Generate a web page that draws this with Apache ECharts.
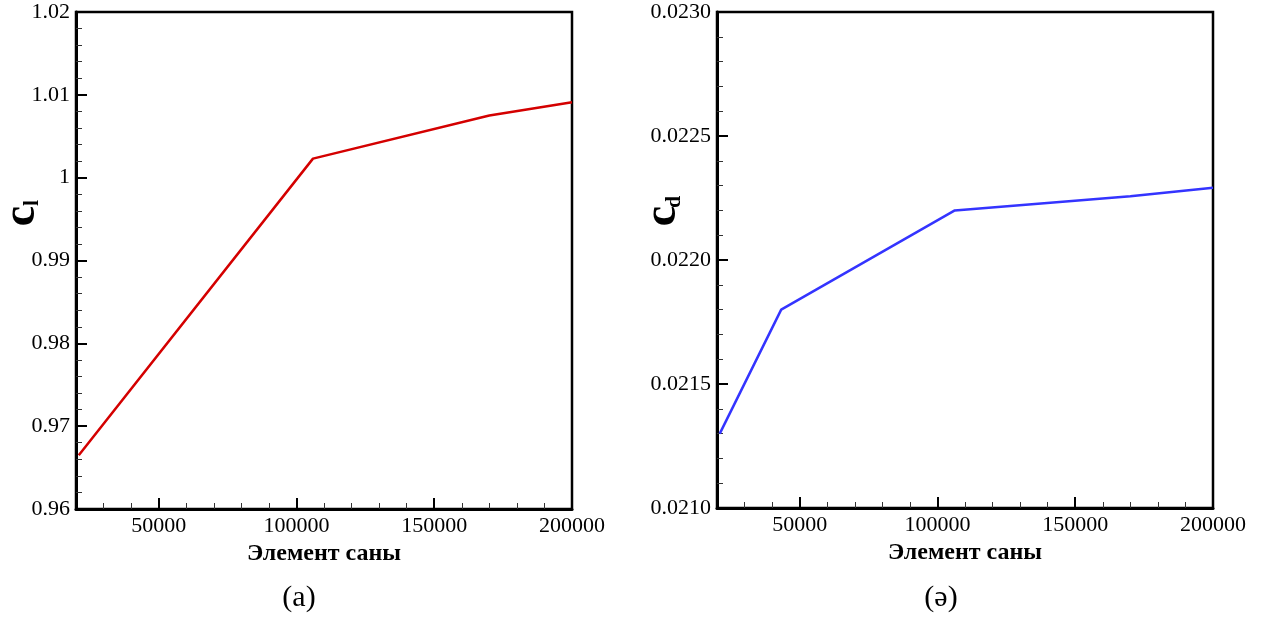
<!DOCTYPE html>
<html>
<head>
<meta charset="utf-8">
<script src="https://cdn.jsdelivr.net/npm/echarts@6/dist/echarts.min.js"></script>
<style>
html,body{margin:0;padding:0;background:#fff;}
#chart{width:1264px;height:617px;}
</style>
</head>
<body>
<div id="chart"></div>
<script>
// ---- data ----
const clX = [21000, 106000, 170000, 200000];
const clY = [0.9665, 1.0023, 1.0075, 1.0091];
const cdX = [21000, 43300, 106300, 170000, 200000];
const cdY = [0.02130, 0.02180, 0.02220, 0.022257, 0.022291];
const xMajorTicks = [50000, 100000, 150000, 200000];
const xMinorTicks = [30000, 40000, 60000, 70000, 80000, 90000, 110000, 120000, 130000, 140000, 160000, 170000, 180000, 190000];
const xTitle = 'Элемент саны';
const captions = ['(a)', '(ə)'];

const FONT = 'Liberation Serif, Times New Roman, serif';
const chart = echarts.init(document.getElementById('chart'));

function makeX(gridIndex, major) {
  return {
    type: 'value', gridIndex: gridIndex, min: 20000, max: 200000, position: 'bottom',
    name: major ? '' : xTitle, nameLocation: 'middle', nameGap: 28,
    nameTextStyle: {fontFamily: FONT, fontWeight: 'bold', fontSize: 24, color: '#000'},
    axisLine: {show: !major, onZero: false, lineStyle: {color: '#000', width: 3}},
    axisTick: major
      ? {show: true, inside: true, length: 11, lineStyle: {color: '#000', width: 2}, customValues: xMajorTicks}
      : {show: true, inside: true, length: 6, lineStyle: {color: '#333', width: 1}, customValues: xMinorTicks},
    axisLabel: major ? {show: false} : {
      show: true, margin: 6, customValues: xMajorTicks,
      fontFamily: FONT, fontSize: 22, color: '#000', formatter: v => String(v)
    },
    splitLine: {show: false}, minorTick: {show: false}
  };
}

function makeY(gridIndex, min, max, interval, fmt) {
  return {
    type: 'value', gridIndex: gridIndex, min: min, max: max, interval: interval,
    axisLine: {show: true, onZero: false, lineStyle: {color: '#000', width: 3}},
    axisTick: {show: true, inside: true, length: 11, lineStyle: {color: '#000', width: 2}},
    minorTick: {show: true, splitNumber: 5, length: 6, lineStyle: {color: '#333', width: 1}},
    axisLabel: {margin: 6, fontFamily: FONT, fontSize: 22, color: '#000', formatter: fmt},
    splitLine: {show: false}, minorSplitLine: {show: false}
  };
}

function zip(xs, ys) { return xs.map((x, i) => [x, ys[i]]); }

const option = {
  backgroundColor: '#fff',
  animation: false,
  grid: [
    {left: 76, top: 12, width: 496, height: 497, show: true, borderColor: '#000', borderWidth: 2.5, containLabel: false},
    {left: 717, top: 12, width: 496, height: 496, show: true, borderColor: '#000', borderWidth: 2.5, containLabel: false}
  ],
  xAxis: [makeX(0, false), makeX(0, true), makeX(1, false), makeX(1, true)],
  yAxis: [
    makeY(0, 0.96, 1.02, 0.01, v => String(+v.toFixed(2))),
    makeY(1, 0.021, 0.023, 0.0005, v => v.toFixed(4))
  ],
  series: [
    {type: 'line', xAxisIndex: 0, yAxisIndex: 0, data: zip(clX, clY), showSymbol: false,
     lineStyle: {color: '#d40000', width: 2.5}, itemStyle: {color: '#d40000'}},
    {type: 'line', xAxisIndex: 2, yAxisIndex: 1, data: zip(cdX, cdY), showSymbol: false,
     lineStyle: {color: '#3434ff', width: 2.5}, itemStyle: {color: '#3434ff'}}
  ],
  graphic: [
    {type: 'text', x: 22, y: 216, rotation: Math.PI / 2,
     style: {text: 'c', font: 'bold 46px ' + FONT, fill: '#000', align: 'center', verticalAlign: 'middle'}},
    {type: 'text', x: 32, y: 203, rotation: Math.PI / 2,
     style: {text: 'l', font: 'bold 22px ' + FONT, fill: '#000', align: 'center', verticalAlign: 'middle'}},
    {type: 'text', x: 663, y: 216, rotation: Math.PI / 2,
     style: {text: 'c', font: 'bold 46px ' + FONT, fill: '#000', align: 'center', verticalAlign: 'middle'}},
    {type: 'text', x: 674, y: 202, rotation: Math.PI / 2,
     style: {text: 'd', font: 'bold 22px ' + FONT, fill: '#000', align: 'center', verticalAlign: 'middle'}},
    {type: 'text', x: 299, y: 598,
     style: {text: captions[0], font: '30px ' + FONT, fill: '#000', align: 'center', verticalAlign: 'middle'}},
    {type: 'text', x: 941, y: 598,
     style: {text: captions[1], font: '30px ' + FONT, fill: '#000', align: 'center', verticalAlign: 'middle'}}
  ]
};
chart.setOption(option);
</script>
</body>
</html>
